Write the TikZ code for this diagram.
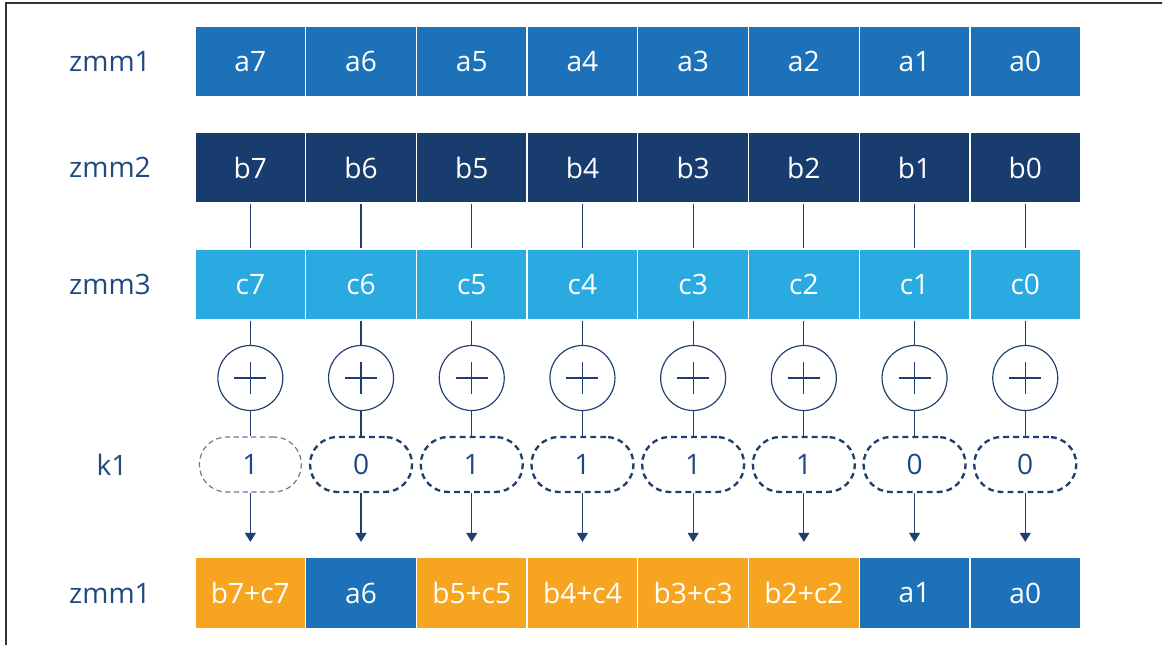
\documentclass[tikz,border=0pt]{standalone}
\usepackage{fontspec}
\setmainfont{Open Sans}
\usetikzlibrary{arrows.meta}

\definecolor{regblue}{HTML}{1C71B8}
\definecolor{regnavy}{HTML}{173C6D}
\definecolor{regsky}{HTML}{29ABE2}
\definecolor{regorange}{HTML}{F7A520}
\definecolor{wire}{HTML}{1F3F6E}
\definecolor{labelblue}{HTML}{1F4A80}

\tikzset{
  bigfont/.style={font=\fontsize{24}{24}\selectfont},
  cell/.style={fill=#1, draw=white, line width=1.1pt, minimum width=3.32cm,
    minimum height=2.13cm, inner sep=0pt, text=white, bigfont},
  reglabel/.style={text=labelblue, bigfont},
  wireline/.style={draw=wire, line width=1pt},
  adder/.style={circle, draw=wire, line width=1pt, minimum size=1.95cm, inner sep=0pt,
    path picture={\draw[wire, line width=1pt]
      ([xshift=-0.48cm]path picture bounding box.center) -- ([xshift=0.48cm]path picture bounding box.center)
      ([yshift=-0.48cm]path picture bounding box.center) -- ([yshift=0.48cm]path picture bounding box.center);}},
  maskbox/.style={draw=wire, rounded corners=0.82cm, line width=2pt,
    dash pattern=on 5pt off 3.5pt, minimum width=3.06cm, minimum height=1.65cm,
    inner sep=0pt, text=labelblue, bigfont},
  maskfaint/.style={maskbox, draw=wire!70, line width=1pt, dash pattern=on 4.5pt off 3pt}
}

\begin{document}
\begin{tikzpicture}[x=0.03cm, y=-0.03cm]
\useasboundingbox (0,0) rectangle (1162,645);
\draw[line width=1.4pt, black!80] (5,3) -- (1162,3);
\draw[line width=1.4pt, black!80] (6,3) -- (6,645);

\node[reglabel] (l1) at (110,61.5) {zmm1};
\node[reglabel] (l2) at (110,167.5) {zmm2};
\node[reglabel] (l3) at (110,284.5) {zmm3};
\node[reglabel] (lk) at (112,465) {k1};
\node[reglabel] (l4) at (110,593) {zmm1};

\foreach \i/\m/\res/\col [evaluate=\i as \cx using 250.35+110.7*(7-\i)] in
  {7/1/b7+c7/regorange, 6/0/a6/regblue, 5/1/b5+c5/regorange, 4/1/b4+c4/regorange,
   3/1/b3+c3/regorange, 2/1/b2+c2/regorange, 1/0/a1/regblue, 0/0/a0/regblue} {
  \node[cell=regblue] (a\i) at (\cx,61.5) {a\i};
  \node[cell=regnavy] (b\i) at (\cx,167.5) {b\i};
  \node[cell=regsky] (c\i) at (\cx,284.5) {c\i};
  \node[adder] (add\i) at (\cx,378) {};
  \ifnum\i=7
    \node[maskfaint] (k\i) at (\cx,464.5) {\m};
  \else
    \node[maskbox] (k\i) at (\cx,464.5) {\m};
  \fi
  \node[cell=\col] (r\i) at (\cx,593) {\res};
  \draw[wireline] (b\i) -- (c\i);
  \draw[wireline] (c\i) -- (add\i);
  \draw[wireline] (add\i) -- (k\i);
  \draw[wireline, shorten >=0.45cm, -{Triangle[length=0.27cm, width=0.33cm]}] (k\i) -- (r\i);
}
\end{tikzpicture}
\end{document}
